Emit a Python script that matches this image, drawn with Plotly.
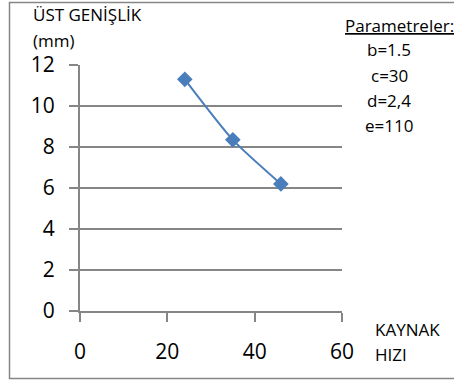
import plotly.graph_objects as go

x_speed = [24, 35, 46]
y_width = [11.3, 8.35, 6.2]
x_ticks = [0, 20, 40, 60]
y_ticks = [0, 2, 4, 6, 8, 10, 12]
params = ["b=1.5", "c=30", "d=2,4", "e=110"]

W, H = 454, 385
L, R, T, B = 80, 342, 65, 311  # plot area in px

def px(xp):
    return (xp - L) / (R - L)

def py(yp):
    return (B - yp) / (B - T)

FONT = "Open Sans"
grey = "#868686"

fig = go.Figure()
fig.add_trace(go.Scatter(
    x=x_speed, y=y_width, mode="lines+markers",
    line=dict(color="#4a7ebb", width=2, shape="spline", smoothing=0.6),
    marker=dict(symbol="diamond", size=12, color="#4a7ebb"),
    showlegend=False, cliponaxis=False,
))

fig.update_layout(
    width=W, height=H,
    margin=dict(l=L, r=W - R, t=T, b=H - B),
    paper_bgcolor="white", plot_bgcolor="white",
    font=dict(family=FONT, color="#000000"),
    xaxis=dict(range=[0, 60], tickvals=x_ticks, showgrid=False, zeroline=False,
               showline=True, linecolor=grey, linewidth=2,
               ticks="outside", ticklen=9, tickwidth=2, tickcolor=grey,
               tickfont=dict(size=21, family=FONT), ticklabelstandoff=12),
    yaxis=dict(range=[0, 12], tickvals=y_ticks, showgrid=True, gridcolor=grey, gridwidth=2,
               zeroline=False, showline=True, linecolor=grey, linewidth=2,
               ticks="outside", ticklen=9, tickwidth=2, tickcolor=grey,
               tickfont=dict(size=21, family=FONT), ticklabelstandoff=10),
)

# outer chart border
fig.add_shape(type="rect", xref="paper", yref="paper",
              x0=px(9.5), x1=px(470), y0=py(378.5), y1=py(2.5),
              line=dict(color=grey, width=1.5), layer="below")

FS = 17
anns = [
    ("ÜST GENİŞLİK", 31, 15, "left"),
    ("(mm)", 31, 40, "left"),
    ("KAYNAK", 373, 329, "left"),
    ("HIZI", 373, 354, "left"),
]
for text, xp, yp, al in anns:
    fig.add_annotation(text=text, xref="paper", yref="paper", x=px(xp), y=py(yp),
                       xanchor=al, yanchor="middle", showarrow=False,
                       font=dict(size=FS, family=FONT))

fig.add_annotation(text="<u>Parametreler:</u>", xref="paper", yref="paper",
                   x=px(456), y=py(25), xanchor="right", yanchor="middle",
                   showarrow=False, font=dict(size=FS, family=FONT))
for i, p in enumerate(params):
    fig.add_annotation(text=p, xref="paper", yref="paper", x=px(389), y=py(50 + 25 * i),
                       xanchor="center", yanchor="middle", showarrow=False,
                       font=dict(size=FS, family=FONT))

fig.write_html("out.html")
